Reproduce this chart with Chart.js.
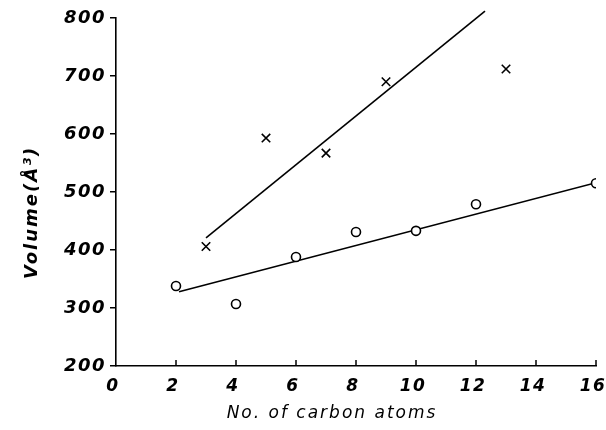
<!DOCTYPE html>
<html>
<head>
<meta charset="utf-8">
<script src="https://cdn.jsdelivr.net/npm/chart.js"></script>
<style>
  html, body { margin: 0; padding: 0; background: #fff; }
  #wrap { width: 606px; height: 430px; }
</style>
</head>
<body>
<div id="wrap"><canvas id="c" width="606" height="430"></canvas></div>
<script>
// circles (o)
const circleX = [2, 4, 6, 8, 10, 12, 16];
const circleY = [338, 307, 388, 431, 433, 479, 515];
// crosses (x)
const crossX = [3, 5, 7, 9, 13];
const crossY = [406, 593, 567, 690, 712];
// fitted lines (end points)
const upperFitX = [3, 12.3];
const upperFitY = [421, 812];
const lowerFitX = [2.1, 16];
const lowerFitY = [328, 516];

const xTicks = [0, 2, 4, 6, 8, 10, 12, 14, 16];
const yTicks = [200, 300, 400, 500, 600, 700, 800];

const toPoints = (xs, ys) => xs.map((x, i) => ({ x, y: ys[i] }));

const yTickFont = { family: "DejaVu Sans", style: "italic", weight: "bold", size: 18 };
const xTickFont = { family: "DejaVu Sans", style: "italic", weight: "bold", size: 17 };

// ticks inside on x axis + axis titles + letter spacing
const paperStyle = {
    id: "paperStyle",
    beforeDraw(chart) {
        chart.ctx.letterSpacing = "1.5px";
    },
    afterDraw(chart) {
        const ctx = chart.ctx;
        const { x, y } = chart.scales;
        const bottom = chart.chartArea.bottom;
        ctx.save();
        ctx.strokeStyle = "#000";
        ctx.lineWidth = 1.5;
        xTicks.slice(1).forEach(v => {
            const px = x.getPixelForValue(v);
            ctx.beginPath();
            ctx.moveTo(px, bottom);
            ctx.lineTo(px, bottom - 6);
            ctx.stroke();
        });
        ctx.fillStyle = "#000";
        ctx.letterSpacing = "2px";
        ctx.font = "italic 17px 'DejaVu Sans'";
        ctx.textAlign = "center";
        ctx.textBaseline = "alphabetic";
        ctx.fillText("No. of carbon atoms", x.getPixelForValue(7.2), 418);
        ctx.translate(32, y.getPixelForValue(465));
        ctx.rotate(-Math.PI / 2);
        ctx.font = "italic bold 18px 'DejaVu Sans'";
        ctx.textBaseline = "middle";
        ctx.fillText("Volume(Å³)", 0, 0);
        ctx.restore();
    }
};

new Chart(document.getElementById("c"), {
    type: "scatter",
    data: {
        datasets: [
            {
                label: "circles",
                data: toPoints(circleX, circleY),
                pointStyle: "circle",
                pointRadius: 4.5,
                borderColor: "#000",
                backgroundColor: "#fff",
                borderWidth: 1.6
            },
            {
                label: "crosses",
                data: toPoints(crossX, crossY),
                pointStyle: "crossRot",
                pointRadius: 6,
                borderColor: "#000",
                borderWidth: 1.6
            },
            {
                label: "upper fit",
                data: toPoints(upperFitX, upperFitY),
                showLine: true,
                pointRadius: 0,
                borderColor: "#000",
                borderWidth: 1.6,
                clip: false
            },
            {
                label: "lower fit",
                data: toPoints(lowerFitX, lowerFitY),
                showLine: true,
                pointRadius: 0,
                borderColor: "#000",
                borderWidth: 1.6
            }
        ]
    },
    options: {
        responsive: false,
        animation: false,
        layout: { padding: { top: 18, right: 10, left: 0, bottom: 0 } },
        plugins: {
            legend: { display: false },
            tooltip: { enabled: false }
        },
        scales: {
            x: {
                type: "linear",
                min: 0,
                max: 16,
                afterBuildTicks: s => { s.ticks = xTicks.map(v => ({ value: v })); },
                afterFit: s => { s.height = 64; s.paddingLeft = 0; s.paddingRight = 0; },
                grid: { display: false },
                border: { display: true, color: "#000", width: 1.6 },
                ticks: { color: "#000", font: xTickFont, padding: 2, maxRotation: 0, labelOffset: -3 }
            },
            y: {
                type: "linear",
                min: 200,
                max: 800,
                afterBuildTicks: s => { s.ticks = yTicks.map(v => ({ value: v })); },
                afterFit: s => { s.width = 116; s.paddingTop = 0; s.paddingBottom = 0; },
                grid: { drawOnChartArea: false, drawTicks: true, tickLength: 6, color: "#000", lineWidth: 1.5 },
                border: { display: true, color: "#000", width: 1.6 },
                ticks: { color: "#000", font: yTickFont, padding: 4 }
            }
        }
    },
    plugins: [paperStyle]
});
</script>
</body>
</html>
